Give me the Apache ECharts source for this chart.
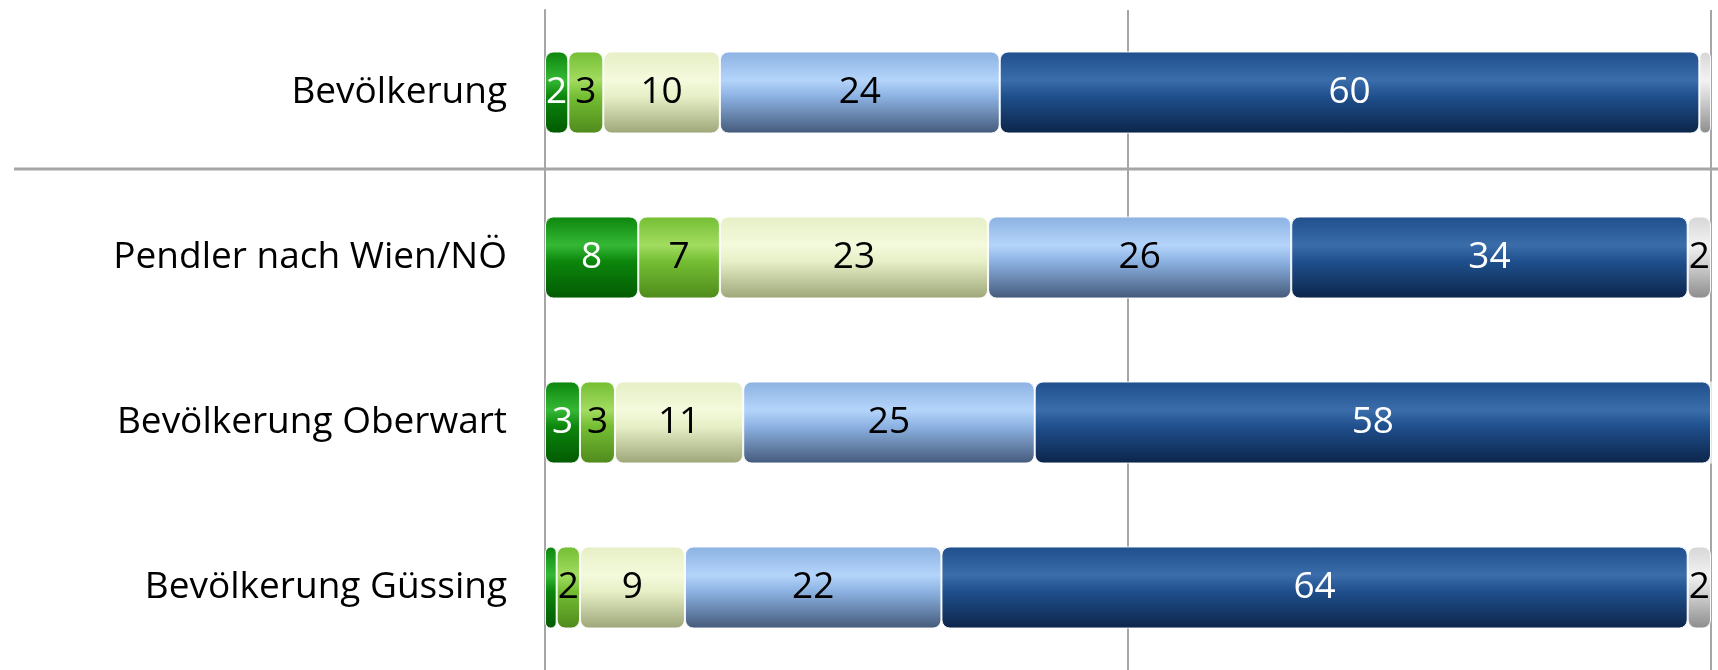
<!DOCTYPE html>
<html>
<head>
<meta charset="utf-8">
<script src="https://cdn.jsdelivr.net/npm/echarts@6/dist/echarts.min.js"></script>
<style>
    html, body { margin: 0; padding: 0; background: #fff; }
    #chart { width: 1718px; height: 670px; }
</style>
</head>
<body>
<div id="chart"></div>
<script>
// Kategorien (von oben nach unten)
const categories = ['Bevölkerung', 'Pendler nach Wien/NÖ', 'Bevölkerung Oberwart', 'Bevölkerung Güssing'];

// Anteile in %, je Segment
const seg1 = [2, 8, 3, 1];
const seg2 = [3, 7, 3, 2];
const seg3 = [10, 23, 11, 9];
const seg4 = [24, 26, 25, 22];
const seg5 = [60, 34, 58, 64];
const seg6 = [1, 2, 0, 2];

const xTicks = [0, 50, 100];

// Farbverlauf für den "Zylinder"-Look
function tube(top, light, bottom) {
    return new echarts.graphic.LinearGradient(0, 0, 0, 1, [
        { offset: 0, color: top },
        { offset: 0.35, color: light },
        { offset: 0.55, color: top },
        { offset: 1, color: bottom }
    ]);
}

const segs = [
    { name: 'seg1', data: seg1, color: tube('#0c860c', '#35b835', '#025a02'), text: '#fff' },
    { name: 'seg2', data: seg2, color: tube('#74be33', '#a2dc60', '#4f8a1c'), text: '#000' },
    { name: 'seg3', data: seg3, color: tube('#e6efc6', '#f4fadc', '#9da678'), text: '#000' },
    { name: 'seg4', data: seg4, color: tube('#8cb2e2', '#b4d4fa', '#44597a'), text: '#000' },
    { name: 'seg5', data: seg5, color: tube('#1f4f8c', '#3b6dab', '#0c254a'), text: '#fff' },
    { name: 'seg6', data: seg6, color: tube('#d6d6d6', '#f2f2f2', '#8c8c8c'), text: '#000' }
];

const chart = echarts.init(document.getElementById('chart'));

chart.setOption({
    backgroundColor: '#fff',
    animation: false,
    textStyle: { fontFamily: 'Open Sans' },
    grid: { left: 545, right: 7, top: 10, height: 664 },
    xAxis: {
        type: 'value',
        min: xTicks[0],
        max: xTicks[xTicks.length - 1],
        interval: 50,
        axisLabel: { show: false },
        axisTick: { show: false },
        axisLine: { show: false },
        splitLine: { lineStyle: { color: '#a6a6a6', width: 2 } }
    },
    yAxis: {
        type: 'category',
        inverse: true,
        data: categories,
        axisTick: { show: false },
        axisLine: { lineStyle: { color: '#a6a6a6', width: 2 } },
        axisLabel: { color: '#000', fontSize: 37, margin: 38 }
    },
    // Trennlinie zwischen Gesamtbevölkerung und Teilgruppen
    graphic: [{
        type: 'line',
        shape: { x1: 14, y1: 169, x2: 1718, y2: 169 },
        style: { stroke: '#a6a6a6', lineWidth: 3 },
        z: 1
    }],
    series: segs.map(s => ({
        name: s.name,
        type: 'bar',
        stack: 'total',
        barWidth: 82,
        data: s.data,
        itemStyle: {
            color: s.color,
            borderRadius: 8,
            borderColor: 'rgba(255,255,255,0.9)',
            borderWidth: 1
        },
        label: {
            show: true,
            position: 'inside',
            color: s.text,
            fontSize: 37,
            formatter: p => (p.value >= 2 ? p.value : '')
        }
    }))
});
</script>
</body>
</html>
